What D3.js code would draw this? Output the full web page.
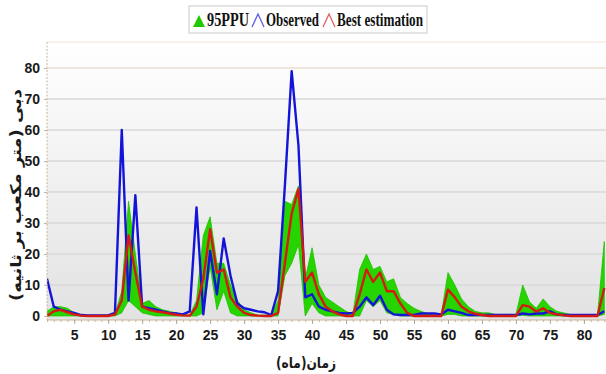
<!DOCTYPE html>
<html>
<head>
<meta charset="utf-8">
<script src="https://cdn.jsdelivr.net/npm/d3@7"></script>
<style>
  body { margin: 0; background: #fff; }
  svg { display: block; }
  .tick text { font-family: 'Liberation Sans Narrow', 'Liberation Sans', Arial, sans-serif; font-weight: bold; font-size: 14px; fill: #1a1a1a; }
</style>
</head>
<body>
<svg id="chart" width="606" height="374"></svg>
<script>
// month index 1..83
let months = d3.range(1, 84)

let observed = [12, 3, 2, 1.5, 1, 0.3, 0.2, 0.2, 0.2, 0.2, 1, 60, 5, 39, 3, 2.5, 2, 1.5, 1, 0.8,
  0.5, 1.5, 35, 0.5, 21, 7, 25, 13, 4, 2.5, 2, 1.5, 1.2, 0.3, 8, 42, 79, 55, 6, 7,
  3, 2, 1.5, 1, 0.8, 1, 3, 6, 3.5, 6.5, 2, 0.5, 0.3, 0.3, 0.3, 0.8, 0.8, 0.8, 0.5, 2,
  1.5, 1, 0.3, 0.3, 0.3, 0.3, 0.3, 0.3, 0.3, 0.3, 0.8, 0.5, 0.8, 0.8, 1.5, 0.5, 0.3, 0.3, 0.3, 0.3,
  0.3, 0.3, 1.5]

let bestEstimation = [0, 1.5, 2, 1.2, 0.5, 0.1, 0, 0, 0, 0, 0.5, 5, 26, 14, 3, 2, 1.5, 1.2, 0.8, 0.4,
  0.2, 0.1, 3, 12, 28, 14, 15, 6, 3, 1, 0.3, 0.1, 0, 0, 1, 17, 33, 41, 11, 14,
  7, 3, 1.5, 0.5, 0, 0, 7, 15, 11, 14, 8, 8, 4, 1, 0, 0, 0, 0, 0, 8.5,
  6, 3, 1.5, 0.7, 0.3, 0, 0, 0, 0, 0, 3.5, 3, 1.4, 2.5, 1, 0.5, 0.2, 0, 0, 0,
  0, 0, 9]

let ppuLow = [0, 0, 0, 0, 0, 0, 0, 0, 0, 0, 0, 1, 5, 3, 1, 0.5, 0, 0, 0, 0,
  0, 0, 0, 1, 16, 2, 8, 1, 0, 0, 0, 0, 0, 0, 0, 13, 17, 23, 0, 4,
  1, 0, 0, 0, 0, 0, 0, 5, 3, 5, 1, 0.5, 0, 0, 0, 0, 0, 0, 0, 0.5,
  0.5, 0, 0, 0, 0, 0, 0, 0, 0, 0, 0.2, 0, 0, 0, 0, 0, 0, 0, 0, 0,
  0, 0, 0.5]

let ppuHigh = [1.5, 3, 3, 2.5, 1, 0.3, 0.2, 0.2, 0.2, 0.2, 0.5, 8, 37, 20, 4, 5, 3, 2, 1.5, 1,
  0.5, 0.3, 5, 26, 32, 17, 17, 10, 5, 2, 1, 0.3, 0.3, 0.3, 5, 37, 36, 42, 12, 22,
  10, 6, 4.5, 3, 1.5, 0.5, 15, 20, 15, 16, 11, 12, 6, 4, 2.5, 1.5, 0.8, 0.3, 0.3, 14,
  10, 5.5, 3, 1.5, 1, 1, 0.5, 0.5, 0.5, 0.5, 10, 4.5, 2.5, 5.5, 3, 1.5, 1, 0.5, 0.2, 0.2,
  0.2, 0.2, 24]

let yTicks = [0, 10, 20, 30, 40, 50, 60, 70, 80]
let xTicks = [5, 10, 15, 20, 25, 30, 35, 40, 45, 50, 55, 60, 65, 70, 75, 80]

let legendItems = [
  { label: '95PPU', color: '#22c800', kind: 'fill' },
  { label: 'Observed', color: '#1515e0', kind: 'line' },
  { label: 'Best estimation', color: '#d81818', kind: 'line' }
]

let svg = d3.select('#chart')
let pLeft = 47, pRight = 606, pTop = 42, pBottom = 320

let x = d3.scaleLinear().domain([1, 83.25]).range([pLeft, pRight])
let y = d3.scaleLinear().domain([-1.3, 88.4]).range([pBottom, pTop])

let defs = svg.append('defs')
let grad = defs.append('linearGradient').attr('id', 'bg').attr('x1', 0).attr('y1', 0).attr('x2', 0).attr('y2', 1)
grad.append('stop').attr('offset', '0%').attr('stop-color', '#ffffff')
grad.append('stop').attr('offset', '100%').attr('stop-color', '#e2e2e2')
defs.append('clipPath').attr('id', 'clip')
  .append('rect').attr('x', pLeft).attr('y', pTop).attr('width', pRight - pLeft).attr('height', pBottom - pTop)

svg.append('rect')
  .attr('x', pLeft).attr('y', pTop)
  .attr('width', pRight - pLeft).attr('height', pBottom - pTop)
  .attr('fill', 'url(#bg)')

// grid
svg.append('g')
  .selectAll('line')
  .data(yTicks.slice(1))
  .enter()
  .append('line')
  .attr('x1', pLeft).attr('x2', pRight)
  .attr('y1', d => y(d)).attr('y2', d => y(d))
  .attr('stroke', d => d === 80 ? '#eadfd2' : '#d9d9d9')
  .attr('stroke-width', 1.5)

svg.append('line')
  .attr('x1', pLeft).attr('x2', pRight).attr('y1', pTop).attr('y2', pTop)
  .attr('stroke', '#efe4d8').attr('stroke-width', 1)

let rows = months.map((m, i) => ({
  m: m, obs: observed[i], best: bestEstimation[i], lo: ppuLow[i], hi: ppuHigh[i]
}))

let plot = svg.append('g').attr('clip-path', 'url(#clip)')

plot.append('path')
  .datum(rows)
  .attr('d', d3.area().x(d => x(d.m)).y0(d => y(d.lo)).y1(d => y(d.hi)))
  .attr('fill', '#26d400')
  .attr('stroke', '#20c000')
  .attr('stroke-width', 0.8)

plot.append('path')
  .datum(rows)
  .attr('d', d3.line().x(d => x(d.m)).y(d => y(d.obs)))
  .attr('fill', 'none')
  .attr('stroke', '#1414d8')
  .attr('stroke-width', 2.4)
  .attr('stroke-linejoin', 'round')

plot.append('path')
  .datum(rows)
  .attr('d', d3.line().x(d => x(d.m)).y(d => y(d.best)))
  .attr('fill', 'none')
  .attr('stroke', '#d41a12')
  .attr('stroke-width', 2.4)
  .attr('stroke-linejoin', 'round')

// axes
let yAxis = svg.append('g')
  .attr('transform', 'translate(' + pLeft + ',0)')
  .call(d3.axisLeft(y).tickValues(yTicks).tickSize(3).tickPadding(4))
yAxis.select('.domain').attr('stroke', '#c8b49a').attr('stroke-dasharray', '2,1.5').attr('d', 'M0,' + pTop + 'V' + pBottom)
yAxis.selectAll('.tick line').attr('stroke', '#c8b49a')

let xAxis = svg.append('g')
  .attr('transform', 'translate(0,' + pBottom + ')')
  .call(d3.axisBottom(x).tickValues(months).tickSize(2).tickFormat(''))
xAxis.select('.domain').attr('stroke', '#c8b49a').attr('d', 'M' + pLeft + ',0H' + pRight)
xAxis.selectAll('.tick line').attr('stroke', '#c8b49a')

let xLabels = svg.append('g')
  .attr('transform', 'translate(0,' + pBottom + ')')
  .call(d3.axisBottom(x).tickValues(xTicks).tickSize(4).tickPadding(6))
xLabels.select('.domain').remove()
xLabels.selectAll('.tick line').attr('stroke', '#b8a48a')

// axis titles
svg.append('text')
  .attr('transform', 'translate(21,' + 195 + ') rotate(-90)')
  .attr('text-anchor', 'middle')
  .attr('font-family', 'DejaVu Sans, sans-serif')
  .attr('font-weight', 'bold')
  .attr('font-size', 15)
  .attr('fill', '#1a1a1a')
  .attr('textLength', 212)
  .attr('lengthAdjust', 'spacingAndGlyphs')
  .text('دبی (متر مکعب بر ثانیه)')

svg.append('text')
  .attr('x', 306).attr('y', 368)
  .attr('text-anchor', 'middle')
  .attr('font-family', 'DejaVu Sans, sans-serif')
  .attr('font-weight', 'bold')
  .attr('font-size', 15)
  .attr('fill', '#1a1a1a')
  .attr('textLength', 60)
  .attr('lengthAdjust', 'spacingAndGlyphs')
  .text('زمان(ماه)')

// legend
let legend = svg.append('g')
legend.append('rect')
  .attr('x', 189).attr('y', 6).attr('width', 238).attr('height', 27)
  .attr('fill', '#fff')
  .attr('stroke', '#dcdcdc')
  .attr('stroke-width', 1.5)

let legX = [193, 252, 323]
let legW = [42, 53, 86]
legendItems.forEach((item, i) => {
  let g = legend.append('g').attr('transform', 'translate(' + legX[i] + ',0)')
  if (item.kind === 'fill') {
    g.append('path').attr('d', 'M0,27L6,15L12,27Z').attr('fill', item.color)
  } else {
    g.append('path').attr('d', 'M0,27L6,14L12,27').attr('fill', 'none')
      .attr('stroke', item.color).attr('stroke-width', 1.3).attr('stroke-opacity', 0.7)
  }
  g.append('text')
    .attr('x', 14).attr('y', 26)
    .attr('font-family', 'Liberation Serif, Times New Roman, serif')
    .attr('font-weight', 'bold')
    .attr('font-size', 18)
    .attr('fill', '#111')
    .attr('textLength', legW[i])
    .attr('lengthAdjust', 'spacingAndGlyphs')
    .text(item.label)
})
</script>
</body>
</html>
